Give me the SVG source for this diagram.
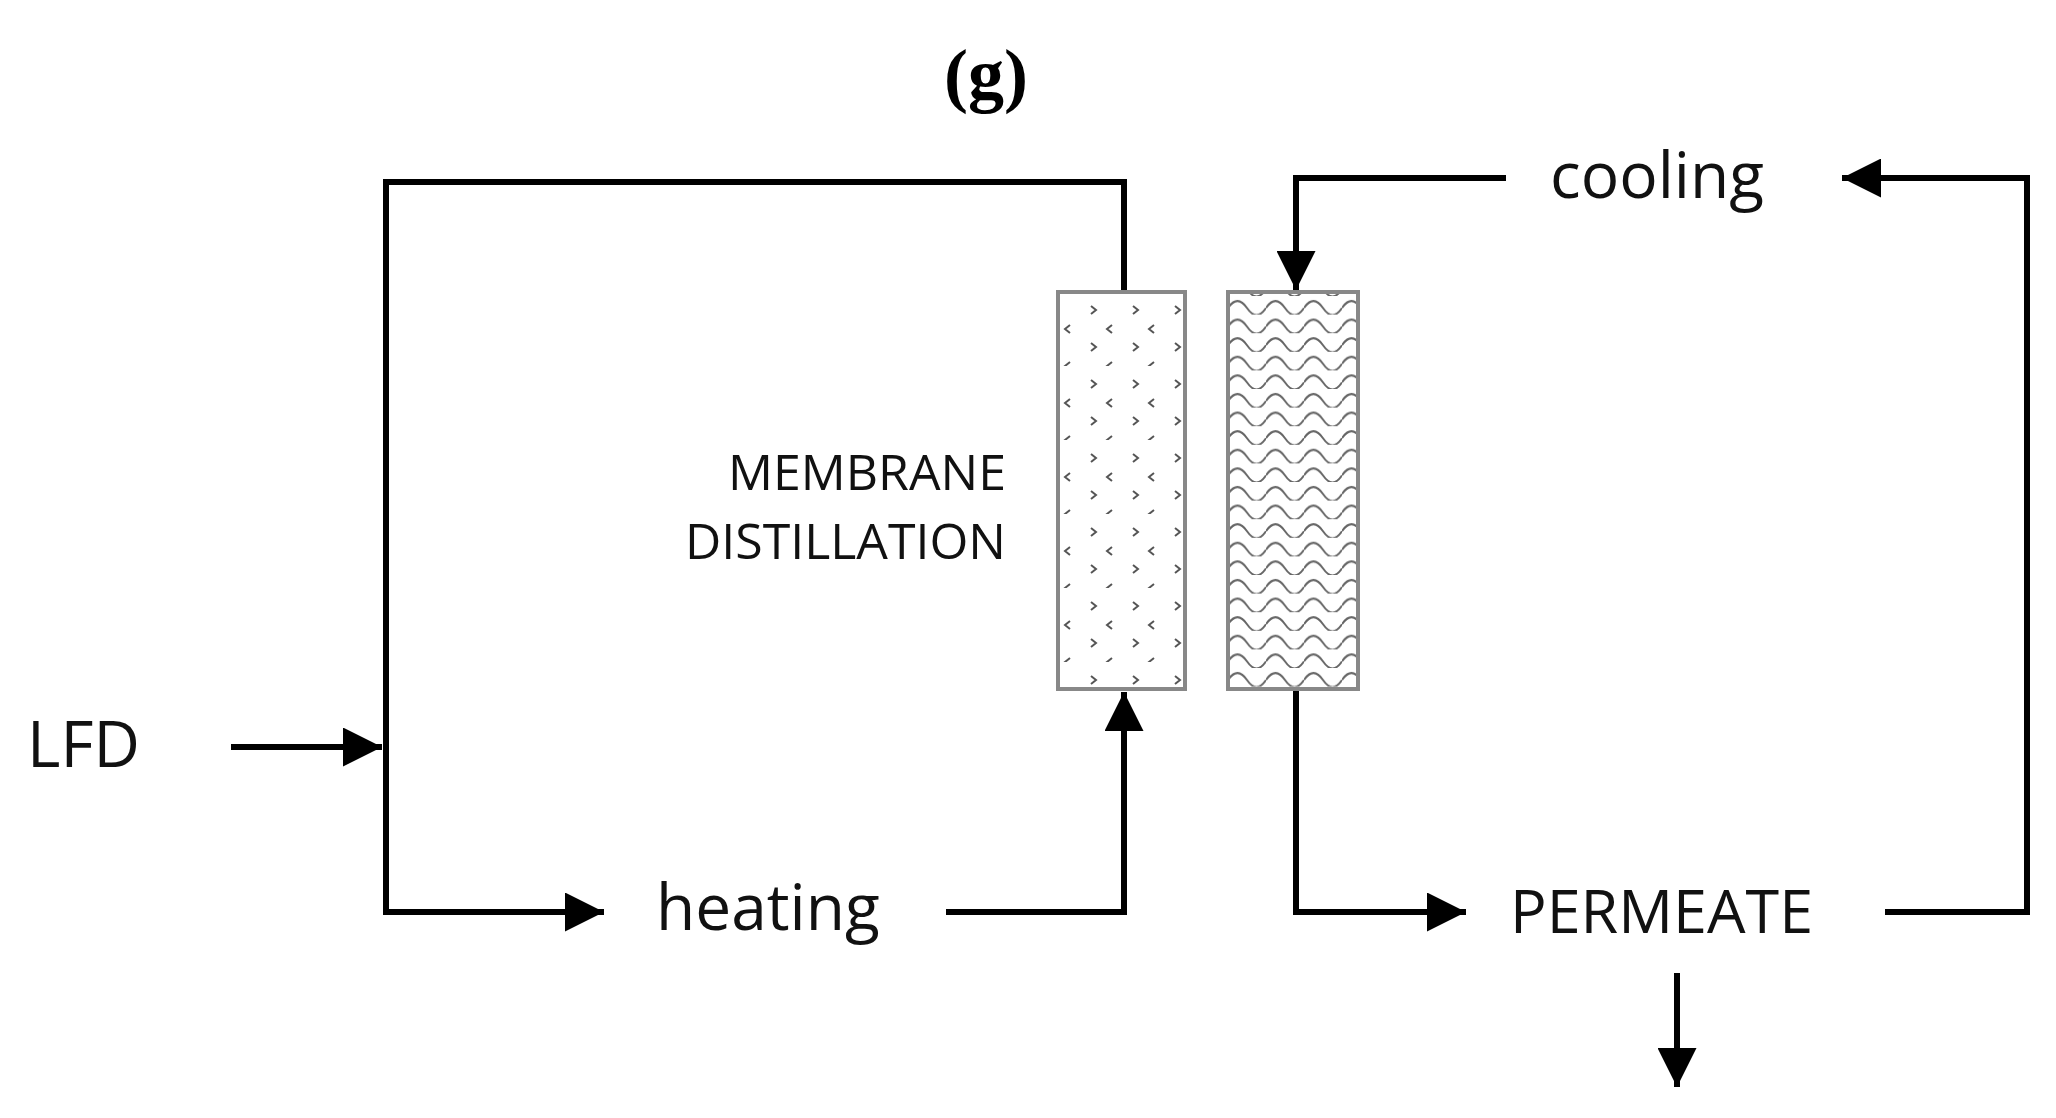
<svg xmlns="http://www.w3.org/2000/svg" width="2056" height="1118" viewBox="0 0 2056 1118">
<style>
.t{font-family:"Open Sans","Liberation Sans",sans-serif;fill:#111}
.c{fill:none;stroke:#000;stroke-width:6}
.box{stroke:#888;stroke-width:4}
</style>
<defs>
<marker id="a" viewBox="0 0 10 10" refX="10" refY="5" markerWidth="6.5" markerHeight="6.5" markerUnits="strokeWidth" orient="auto"><path d="M0,0L10,5L0,10z" fill="#000"/></marker>
<pattern id="p1" width="42" height="74" patternUnits="userSpaceOnUse" x="1058" y="292">
<g fill="none" stroke="#555" stroke-width="2">
<path d="M33,14l5,4-5,4"/><path d="M12,33l-5,4 5,4"/><path d="M33,51l5,4-5,4"/><path d="M12,70l-5,4 5,4"/>
</g></pattern>
<pattern id="p2" width="38" height="18.6" patternUnits="userSpaceOnUse" x="1228" y="296">
<path d="M0,12 Q9.5,-2 19,12 T38,12" fill="none" stroke="#666" stroke-width="2"/>
</pattern>
</defs>
<rect width="2056" height="1118" fill="#fff"/>
<text x="986" y="99" text-anchor="middle" font-family="Liberation Serif,serif" font-weight="bold" font-size="72">(g)</text>
<g id="connectors">
<path class="c" d="M1124,292V182H386V912H604" marker-end="url(#a)"/>
<path class="c" d="M231,747H382" marker-end="url(#a)"/>
<path class="c" d="M946,912H1124V692" marker-end="url(#a)"/>
<path class="c" d="M1506,178H1296V290" marker-end="url(#a)"/>
<path class="c" d="M1296,689V912H1466" marker-end="url(#a)"/>
<path class="c" d="M1885,912H2027V178H1842" marker-end="url(#a)"/>
<path class="c" d="M1677,973V1087" marker-end="url(#a)"/>
</g>
<g id="membrane-left"><rect class="box" x="1058" y="292" width="127" height="397" fill="url(#p1)"/></g>
<g id="membrane-right"><rect class="box" x="1228" y="292" width="130" height="397" fill="url(#p2)"/></g>
<g id="label-md"><text class="t" x="1006" y="490" text-anchor="end" font-size="50">MEMBRANE</text><text class="t" x="1006" y="559" text-anchor="end" font-size="50">DISTILLATION</text></g>
<g id="lfd"><text class="t" x="27" y="767" font-size="64">LFD</text></g>
<g id="heating"><text class="t" x="656" y="930" font-size="64">heating</text></g>
<g id="cooling"><text class="t" x="1550" y="198" font-size="64">cooling</text></g>
<g id="permeate"><text class="t" x="1510" y="933" font-size="61">PERMEATE</text></g>
</svg>
